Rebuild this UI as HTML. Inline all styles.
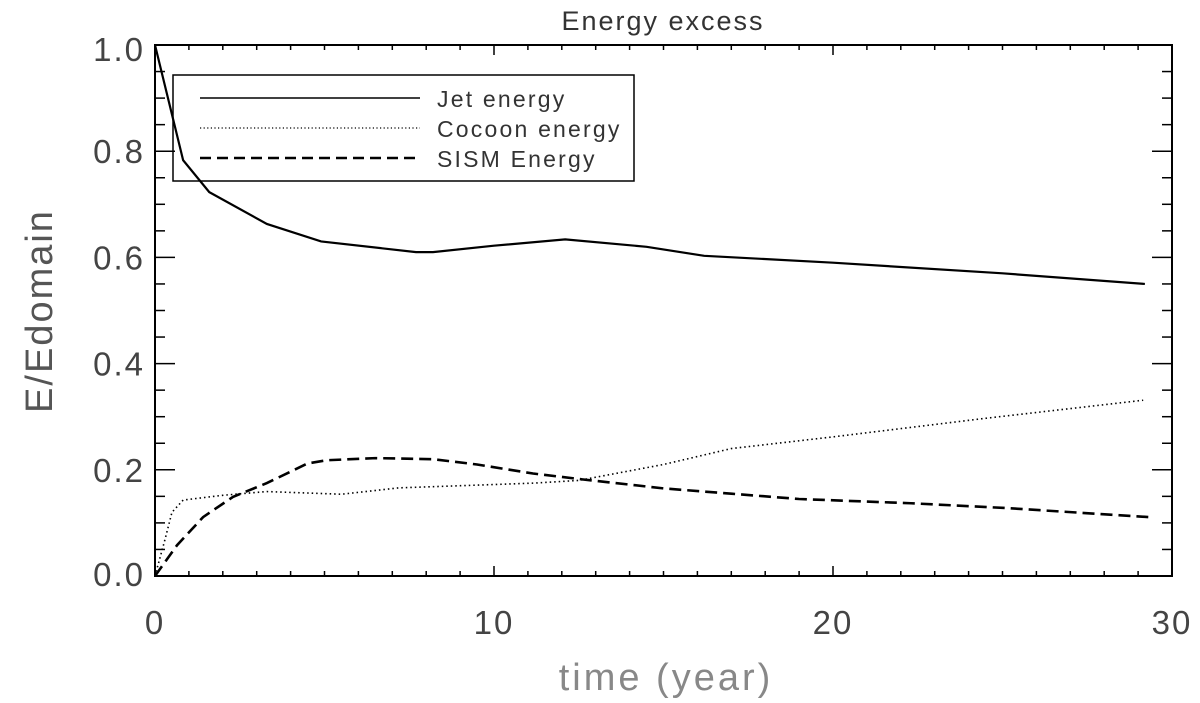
<!DOCTYPE html>
<html><head><meta charset="utf-8"><style>
html,body{margin:0;padding:0;background:#fff;}
svg{display:block;}
text{font-family:"Liberation Sans",sans-serif;}
</style></head><body>
<svg id="chart" width="1200" height="703" viewBox="0 0 1200 703" xmlns="http://www.w3.org/2000/svg">
<text x="663" y="30" font-size="27" text-anchor="middle" fill="#333" letter-spacing="2">Energy excess</text>
<g>
<rect x="173" y="75" width="461" height="106" fill="none" stroke="#000" stroke-width="1.5"/>
<line x1="200" y1="98" x2="420" y2="98" stroke="#000" stroke-width="1.5"/>
<text x="437" y="107" font-size="23" fill="#333" letter-spacing="2.2">Jet energy</text>
<line x1="200" y1="128" x2="420" y2="128" stroke="#000" stroke-width="1.2" stroke-dasharray="1.2,2.4"/>
<text x="437" y="137" font-size="23" fill="#333" letter-spacing="2.2">Cocoon energy</text>
<line x1="200" y1="158" x2="420" y2="158" stroke="#000" stroke-width="2.5" stroke-dasharray="11,6"/>
<text x="437" y="167" font-size="23" fill="#333" letter-spacing="2.2">SISM Energy</text>
</g>
<rect x="155" y="45" width="1017" height="531" fill="none" stroke="#000" stroke-width="2"/>
<g id="ticks"></g>
<g id="series"></g>
<text transform="translate(52,311) rotate(-90)" font-size="38" text-anchor="middle" fill="#555" letter-spacing="2">E/Edomain</text>
<text x="666" y="690" font-size="38" text-anchor="middle" fill="#888" letter-spacing="3">time (year)</text>
</svg>
<script>
const jetT = [0, 0.83, 1.6, 3.3, 4.9, 7.7, 8.2, 10, 12.1, 14.5, 16.2, 20, 25, 29.2];
const jetV = [1.0, 0.783, 0.723, 0.663, 0.63, 0.61, 0.61, 0.622, 0.634, 0.62, 0.603, 0.59, 0.57, 0.55];
const cocoonT = [0, 0.3, 0.5, 0.83, 2, 3.3, 5.5, 7.2, 9, 11.2, 12.5, 15, 17, 20, 24.5, 29.15];
const cocoonV = [0, 0.07, 0.12, 0.143, 0.152, 0.159, 0.154, 0.166, 0.17, 0.175, 0.18, 0.21, 0.24, 0.262, 0.297, 0.331];
const sismT = [0, 0.65, 1.42, 2.3, 3.3, 4.5, 5.07, 6.5, 8.2, 9.5, 11.15, 12.6, 15, 17, 19, 22.3, 25.1, 29.3];
const sismV = [0, 0.058, 0.111, 0.149, 0.175, 0.212, 0.218, 0.222, 0.22, 0.21, 0.193, 0.182, 0.165, 0.155, 0.145, 0.137, 0.128, 0.111];
const xTickLabels = ["0", "10", "20", "30"];
const yTickLabels = ["0.0", "0.2", "0.4", "0.6", "0.8", "1.0"];

const NS = "http://www.w3.org/2000/svg";
const X0 = 155, X1 = 1172, Y0 = 576, Y1 = 45;
function sx(t){ return X0 + (t / 30) * (X1 - X0); }
function sy(v){ return Y0 - (v / 1.0) * (Y0 - Y1); }
const ticks = document.getElementById('ticks');
const series = document.getElementById('series');
function line(x1,y1,x2,y2,w){
  const l = document.createElementNS(NS,'line');
  l.setAttribute('x1',x1);l.setAttribute('y1',y1);l.setAttribute('x2',x2);l.setAttribute('y2',y2);
  l.setAttribute('stroke','#000');l.setAttribute('stroke-width',w);
  return l;
}
for(let i=0;i<=30;i++){
  const x = sx(i), len = (i%10===0)?10:5;
  const a = line(x,Y0,x,Y0-len,1.5);
  
  
  ticks.appendChild(a);
  const b = line(x,Y1,x,Y1+len,1.5);
  
  
  ticks.appendChild(b);
}
for(let i=0;i<=20;i++){
  const v = i*0.05, y = sy(v), len = (i%4===0)?20:10;
  const a = line(X0,y,X0+len,y,1.5);
  
  
  ticks.appendChild(a);
  const b = line(X1,y,X1-len,y,1.5);
  
  
  ticks.appendChild(b);
}
xTickLabels.forEach(s=>{
  const t = document.createElementNS(NS,'text');
  t.setAttribute('x',sx(parseFloat(s)));t.setAttribute('y',634);
  t.setAttribute('font-size','33');t.setAttribute('text-anchor','middle');t.setAttribute('fill','#444');
  t.setAttribute('letter-spacing','2');
  
  
  t.textContent = s; ticks.appendChild(t);
});
yTickLabels.forEach(s=>{
  const t = document.createElementNS(NS,'text');
  t.setAttribute('x',145);t.setAttribute('y',sy(parseFloat(s))+12 + (s==="1.0"?4:0) - (s==="0.0"?2:0));
  t.setAttribute('font-size','33');t.setAttribute('text-anchor','end');t.setAttribute('fill','#444');
  t.setAttribute('letter-spacing','2');
  
  
  t.textContent = s; ticks.appendChild(t);
});
function path(T,V,dash,w,name){
  const p = document.createElementNS(NS,'polyline');
  p.setAttribute('points', T.map((t,i)=>sx(t)+','+sy(V[i])).join(' '));
  p.setAttribute('fill','none');p.setAttribute('stroke','#000');p.setAttribute('stroke-width',w);
  if(dash) p.setAttribute('stroke-dasharray',dash);
  
  
  series.appendChild(p);
}
path(jetT,jetV,null,2.2,'jet-energy-line');
path(cocoonT,cocoonV,'1.5,3',1.6,'cocoon-energy-line');
path(sismT,sismV,'12,6',2.6,'sism-energy-line');
</script>
</body></html>
